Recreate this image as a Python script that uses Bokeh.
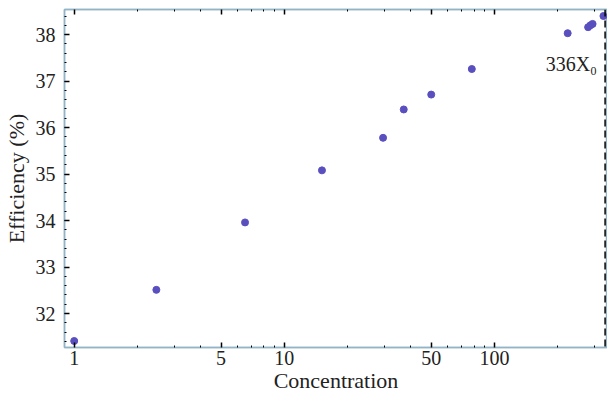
from bokeh.plotting import figure
from bokeh.models import LogAxis, FixedTicker, Span, Label, Range1d, BasicTickFormatter
from bokeh.embed import file_html
from bokeh.resources import INLINE

# data
concentration = [1, 2.46, 6.5, 15.1, 29.5, 37, 50, 78, 223, 279, 286, 293, 330]
efficiency = [31.41, 32.51, 33.96, 35.08, 35.78, 36.39, 36.71, 37.26, 38.03, 38.16, 38.20, 38.23, 38.40]
x_major = [1, 5, 10, 50, 100, 500]
x_minor = [2, 3, 4, 6, 7, 8, 9, 20, 30, 40, 60, 70, 80, 90, 200, 300, 400]
y_major = [32, 33, 34, 35, 36, 37, 38]
limit_x = 336
limit_label = "336X\u2080"

FONT = "Liberation Serif"
FRAME = "#93b4c8"
TXT = "#222222"

p = figure(width=607, height=395, x_axis_type="log",
           x_range=Range1d(0.899, 345), y_range=Range1d(31.27, 38.54),
           output_backend="svg", toolbar_location=None,
           min_border_left=60, min_border_right=0, min_border_top=9, min_border_bottom=40)
p.xgrid.visible = False
p.ygrid.visible = False
p.outline_line_color = FRAME
p.outline_line_width = 1.5

ticker = FixedTicker(ticks=x_major, minor_ticks=x_minor)

for ax in p.xaxis:
    ax.ticker = ticker
    ax.formatter = BasicTickFormatter()
for ax in list(p.xaxis) + list(p.yaxis):
    ax.axis_line_color = FRAME
    ax.axis_line_width = 1.5
    ax.major_tick_in = 5
    ax.major_tick_out = 0
    ax.minor_tick_in = 2
    ax.minor_tick_out = 0
    ax.major_tick_line_color = "black"
    ax.minor_tick_line_color = "black"
    ax.major_tick_line_width = 1.5
    ax.major_label_text_font = FONT
    ax.major_label_text_font_size = "20px"
    ax.major_label_text_color = TXT
    ax.axis_label_text_font = FONT
    ax.axis_label_text_font_size = "22px"
    ax.axis_label_text_font_style = "normal"
    ax.axis_label_text_color = TXT

p.yaxis.ticker = FixedTicker(ticks=y_major,
                             minor_ticks=[v / 5 for v in range(157, 193)])
p.yaxis.major_label_standoff = 9
p.xaxis.major_label_standoff = 3
p.xaxis.axis_label = "Concentration"
p.yaxis.axis_label = "Efficiency (%)"
p.xaxis.axis_label_standoff = 0
p.yaxis.axis_label_standoff = 4

top = LogAxis(ticker=ticker, major_label_overrides={v: "" for v in x_major},
              axis_line_color=FRAME, axis_line_width=1.5,
              major_tick_in=5, major_tick_out=0, minor_tick_in=2, minor_tick_out=0,
              major_tick_line_color="black", minor_tick_line_color="black",
              major_tick_line_width=1.5, major_label_standoff=0)
p.add_layout(top, "above")

p.scatter(concentration, efficiency, size=7, color="#5a4fbf")

p.add_layout(Span(location=limit_x, dimension="height", line_color="black",
                  line_width=1.5, line_dash="7 4"))
p.add_layout(Label(x=limit_x, y=37.36, x_offset=-8, text=limit_label, text_align="right",
                   text_baseline="middle", text_font=FONT, text_font_size="20px",
                   text_color=TXT))

open("out.html", "w").write(file_html(p, INLINE))
